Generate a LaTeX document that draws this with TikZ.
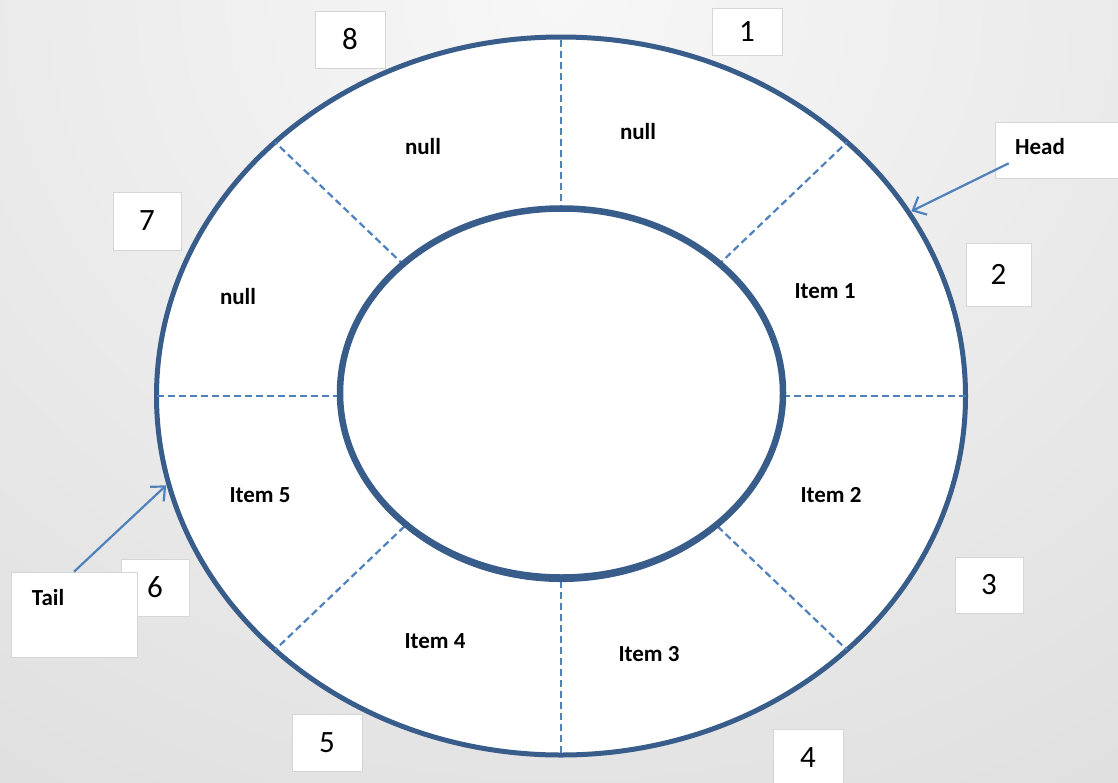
\documentclass[tikz,border=0pt]{standalone}
\usepackage{fontspec}
\setmainfont{Carlito}
\usetikzlibrary{positioning,arrows.meta,calc}
\definecolor{ringBlue}{RGB}{56,93,138}
\definecolor{spokeBlue}{RGB}{79,129,189}
\definecolor{boxEdge}{RGB}{214,214,214}
\definecolor{bgLight}{RGB}{247,247,247}
\definecolor{bgDark}{RGB}{212,212,212}

\begin{document}
\begin{tikzpicture}[x=1pt, y=-1pt,
  numbox/.style={fill=white, draw=boxEdge, line width=0.6pt, inner sep=0pt, font=\fontsize{31}{33}\selectfont},
  slotlabel/.style={font=\bfseries\fontsize{23}{26}\selectfont},
  spoke/.style={spokeBlue, line width=2.2pt, dash pattern=on 7pt off 4pt},
  pointer/.style={spokeBlue, line width=2.2pt, -{Straight Barb[length=11pt, width=20pt, line width=2.2pt]}}]
  % background
  \useasboundingbox (0,0) rectangle (1118,782);
  \begin{scope}
    \clip (0,0) rectangle (1118,782);
    \shade[inner color=bgLight, outer color=bgDark] (-1000,-1400) rectangle (2118,1400);
  \end{scope}
  % ring and hub
  \coordinate (c) at (561,396);
  \coordinate (hc) at (561.5,393);
  \draw[ringBlue, line width=5pt, fill=white] (c) ellipse [x radius=404.5, y radius=359];
  \foreach \a in {0,45,...,315}{
    \draw[spoke] ($(c)+(\a:221.5 and 184.5)$) -- ($(c)+(\a:404.5 and 359)$);
  }
  \draw[ringBlue, line width=6.5pt, fill=white] (hc) ellipse [x radius=221.5, y radius=184.5];
  \draw[ringBlue, line width=4pt] ($(hc)+(15:221 and 187)$) arc [start angle=15, end angle=165, x radius=221, y radius=187];
  \coordinate (headend) at ($(c)+(-30.7:407.5 and 362)$);
  \coordinate (tailend) at ($(c)+(165.7:407.5 and 362)$);
  % slot contents
  \node[slotlabel] (s1) at (638,132) {null};
  \node[slotlabel] (s8) at (423,147) {null};
  \node[slotlabel] (s7) at (238,297) {null};
  \node[slotlabel] (s2) at (825,291) {Item 1};
  \node[slotlabel] (s3) at (831,495) {Item 2};
  \node[slotlabel] (s4) at (649,654) {Item 3};
  \node[slotlabel] (s5) at (435,641) {Item 4};
  \node[slotlabel] (s6) at (260,495) {Item 5};
  % index boxes
  \node[numbox, minimum width=70, minimum height=47] (n1) at (747,31.5) {1};
  \node[numbox, minimum width=65, minimum height=63] (n2) at (998.5,274.5) {2};
  \node[numbox, minimum width=68, minimum height=56] (n3) at (989,585) {3};
  \node[numbox, minimum width=70, minimum height=57] (n4) at (808,757.5) {4};
  \node[numbox, minimum width=70, minimum height=57] (n5) at (327,742.5) {5};
  \node[numbox, minimum width=68, minimum height=57] (n6) at (155,587.5) {6};
  \node[numbox, minimum width=68, minimum height=58] (n7) at (147,221) {7};
  \node[numbox, minimum width=70, minimum height=57] (n8) at (350,39.5) {8};
  % head and tail
  \node[numbox, minimum width=124, minimum height=56] (headbox) at (1057,150) {};
  \node[slotlabel] (head) at (1040,147) {Head};
  \node[numbox, minimum width=126, minimum height=85] (tailbox) at (74,614.5) {};
  \node[slotlabel] (tail) at (48,598) {Tail};
  \draw[pointer] ($(headbox.south west)+(14,-15)$) -- (headend);
  \draw[pointer] (tailbox.north) -- (tailend);
\end{tikzpicture}
\end{document}
